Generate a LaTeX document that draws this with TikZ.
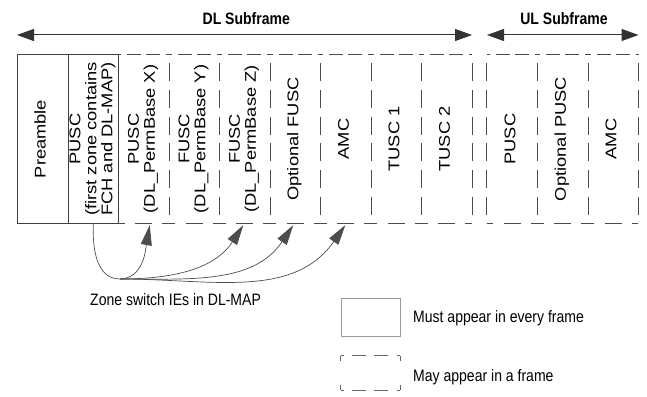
\documentclass[tikz,border=0pt]{standalone}
\usepackage{fontspec}
\setmainfont{Liberation Sans}
\newfontfamily\hfont[FakeStretch=0.85]{Liberation Sans}
\newfontfamily\vfont[FakeStretch=1.18]{Liberation Sans}
\usetikzlibrary{arrows.meta,decorations}
\newcommand{\vlab}[1]{\rotatebox{90}{\vfont\fontsize{15.5}{16}\selectfont\begin{tabular}{@{}c@{}}#1\end{tabular}}}
\begin{document}
\begin{tikzpicture}[x=1pt,y=1pt,
  col/.style={rectangle, minimum width=50.5pt, minimum height=168pt, inner sep=0pt},
  solidline/.style={draw=black!75, line width=0.9pt},
  hdash/.style={draw=black!70, line width=0.9pt, dash pattern=on 3pt off 6pt on 14pt off 5pt on 14pt off 6pt on 3pt off 30pt},
  bdash/.style={draw=black!70, line width=0.9pt, dash pattern=on 6.5pt off 10.25pt on 17pt off 10.25pt on 6.5pt off 30pt},
  vdash/.style={draw=black!70, line width=0.9pt, dash pattern=on 18pt off 6pt, dash expand off},
  htext/.style={font={\hfont\fontsize{16.5}{18}\selectfont}, inner sep=0pt},
  title/.style={font={\hfont\bfseries\fontsize{16.5}{18}\selectfont}, inner sep=0pt},
  span/.style={draw=black!80, line width=1pt, {Triangle[length=17pt,width=12pt]}-{Triangle[length=17pt,width=12pt]}},
  zsw/.style={draw=black!70, line width=0.7pt, -{Triangle[length=20pt,width=11pt]}},
  zline/.style={draw=black!70, line width=0.7pt},
]
\useasboundingbox (0,0) rectangle (647,-396);

% titles and span arrows
\node[title, anchor=base] (dlt) at (246.3,-24.3) {DL Subframe};
\node[title, anchor=base] (ult) at (564,-24.3) {UL Subframe};
\coordinate (dlL) at (17,-35);
\coordinate (dlR) at (472,-35);
\coordinate (ulL) at (487,-35);
\coordinate (ulR) at (638.5,-35);
\draw[span] (dlL) -- (dlR);
\draw[span] (ulL) -- (ulR);

% DL columns
\node[col] (c1) at (42.5,-139) {\vlab{Preamble}};
\node[col] (c2) at (93.25,-139) {\vlab{PUSC\\(first zone contains\\FCH and DL-MAP)}};
\node[col] (c3) at (143.75,-139) {\vlab{PUSC\\(DL\_PermBase X)}};
\node[col] (c4) at (194.25,-139) {\vlab{FUSC\\(DL\_PermBase Y)}};
\node[col] (c5) at (244.75,-139) {\vlab{FUSC\\(DL\_PermBase Z)}};
\node[col] (c6) at (295.25,-139) {\vlab{Optional FUSC}};
\node[col] (c7) at (345.75,-139) {\vlab{AMC}};
\node[col] (c8) at (396.25,-139) {\vlab{TUSC 1}};
\node[col] (c9) at (446.75,-139) {\vlab{TUSC 2}};
% UL columns
\node[col] (u1) at (512.25,-139) {\vlab{PUSC}};
\node[col] (u2) at (562.75,-139) {\vlab{Optional PUSC}};
\node[col] (u3) at (613.25,-139) {\vlab{AMC}};

% mandatory zones: solid box
\draw[solidline] (c1.north west) rectangle (c2.south east);
\draw[solidline] (c1.north east) -- (c1.south east);
% optional zones: dashed
\foreach \c in {c3,c4,c5,c6,c7,c8,c9,u1,u2,u3}{
  \draw[hdash] (\c.north west) -- (\c.north east);
  \draw[bdash] (\c.south west) -- (\c.south east);
  \draw[vdash] (\c.north east) -- (\c.south east);
}
\draw[vdash] (u1.north west) -- (u1.south west);

% zone switch connectors
\coordinate (hub) at (120,-279);
\draw[zline] (c2.south) to[out=-92,in=180] (hub);
\draw[zsw] (hub) to[out=2,in=-100] ([shift={(6,-2)}]c3.south);
\draw[zsw] (hub) to[out=0,in=-123] ([shift={(-1.5,-2)}]c5.south);
\draw[zsw] (hub) to[out=0,in=-124] ([shift={(-2,-2)}]c6.south);
\draw[zsw] (hub) to[out=0,in=-125] ([shift={(-0.5,-2)}]c7.south);
\node[htext, anchor=base west] (zlab) at (90,-305) {Zone switch IEs in DL-MAP};

% legend
\node[rectangle, draw=black!40, line width=1pt, minimum width=59pt, minimum height=38pt, inner sep=0pt] (lsolid) at (370.5,-317) {};
\node[rectangle, minimum width=59pt, minimum height=34pt, inner sep=0pt] (ldash) at (370.5,-373) {};
\begin{scope}[draw=black!60, line width=0.9pt]
  \draw[dash pattern=on 3pt off 8pt on 14pt off 8pt on 14pt off 9pt on 3pt off 30pt] (ldash.north west) -- (ldash.north east);
  \draw[dash pattern=on 3pt off 8pt on 14pt off 8pt on 14pt off 9pt on 3pt off 30pt] (ldash.south west) -- (ldash.south east);
  \draw[dash pattern=on 5pt off 24pt on 5pt off 30pt] (ldash.north west) -- (ldash.south west);
  \draw[dash pattern=on 5pt off 24pt on 5pt off 30pt] (ldash.north east) -- (ldash.south east);
\end{scope}
\node[htext, anchor=base west] (lt1) at (413,-322.5) {Must appear in every frame};
\node[htext, anchor=base west] (lt2) at (413,-381.5) {May appear in a frame};
\end{tikzpicture}
\end{document}
